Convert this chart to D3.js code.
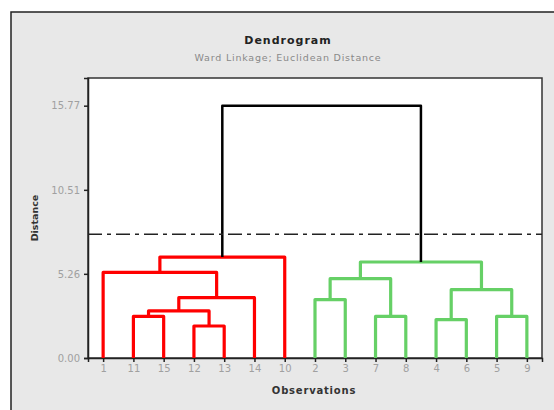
<!DOCTYPE html>
<html>
<head>
<meta charset="utf-8">
<script src="https://cdn.jsdelivr.net/npm/d3@7"></script>
<style>
  body { margin: 0; background: #fff; }
  svg { display: block; font-family: "DejaVu Sans", sans-serif; }
</style>
</head>
<body>
<div id="chart"></div>
<script>
// leaf order along the x axis
const observations = ["1", "11", "15", "12", "13", "14", "10", "2", "3", "7", "8", "4", "6", "5", "9"];

// linkage: [left, right, distance]; row n creates cluster "C" + (n + 1)
const linkage = [
    ["11", "15", 2.60],
    ["12", "13", 2.00],
    ["C1", "C2", 2.94],
    ["C3", "14", 3.77],
    ["1", "C4", 5.35],
    ["C5", "10", 6.31],
    ["2", "3", 3.65],
    ["7", "8", 2.60],
    ["C7", "C8", 4.96],
    ["4", "6", 2.40],
    ["5", "9", 2.60],
    ["C10", "C11", 4.27],
    ["C9", "C12", 6.00],
    ["C6", "C13", 15.77]
];

const yTicks = [0, 5.26, 10.51, 15.77];
const cutHeight = 7.73;
const redCluster = "C6";
const greenCluster = "C13";

const W = 554, H = 410;
const plot = {left: 88, right: 542, top: 78, bottom: 358};

const svg = d3.select("#chart").append("svg")
    .attr("width", W)
    .attr("height", H);

// outer frame
svg.append("rect")
    .attr("x", 11).attr("y", 12)
    .attr("width", W + 10).attr("height", H + 10)
    .attr("fill", "#e8e8e8")
    .attr("stroke", "#222")
    .attr("stroke-width", 1.5);

svg.append("text")
    .attr("x", 288).attr("y", 44)
    .attr("text-anchor", "middle")
    .attr("font-size", 11)
    .attr("font-weight", "bold")
    .attr("letter-spacing", 1.0)
    .attr("fill", "#222")
    .text("Dendrogram");

svg.append("text")
    .attr("x", 288).attr("y", 61)
    .attr("text-anchor", "middle")
    .attr("font-size", 9.5)
    .attr("letter-spacing", 0.8)
    .attr("fill", "#888")
    .text("Ward Linkage; Euclidean Distance");

// plot box
svg.append("rect")
    .attr("x", plot.left).attr("y", plot.top)
    .attr("width", plot.right - plot.left)
    .attr("height", plot.bottom - plot.top)
    .attr("fill", "#fff")
    .attr("stroke", "#333")
    .attr("stroke-width", 1.5);

const x = d3.scalePoint()
    .domain(observations)
    .range([plot.left, plot.right])
    .padding(0.5);

const y = d3.scaleLinear()
    .domain([0, 17.5])
    .range([plot.bottom, plot.top]);

// axes
const yAxis = svg.append("g")
    .attr("transform", "translate(" + plot.left + ",0)")
    .call(d3.axisLeft(y).tickValues(yTicks).tickFormat(d3.format(".2f")).tickSize(4).tickPadding(4));

const xAxis = svg.append("g")
    .attr("transform", "translate(0," + plot.bottom + ")")
    .call(d3.axisBottom(x).tickSize(4).tickPadding(3));

[yAxis, xAxis].forEach(a => {
    a.select(".domain").attr("stroke", "#222").attr("stroke-width", 1.5);
    a.selectAll(".tick line").attr("stroke", "#222").attr("stroke-width", 1.5);
    a.selectAll(".tick text")
        .attr("fill", "#a0a0a0")
        .attr("font-size", 10)
        .attr("font-family", "DejaVu Sans, sans-serif");
});

svg.append("text")
    .attr("transform", "translate(38,218) rotate(-90)")
    .attr("text-anchor", "middle")
    .attr("font-size", 9.5)
    .attr("font-weight", "bold")
    .attr("fill", "#333")
    .text("Distance");

svg.append("text")
    .attr("x", 314).attr("y", 394)
    .attr("text-anchor", "middle")
    .attr("font-size", 10)
    .attr("font-weight", "bold")
    .attr("letter-spacing", 0.8)
    .attr("fill", "#333")
    .text("Observations");

// build cluster nodes from the linkage table
const nodes = {};
observations.forEach(o => { nodes[o] = {name: o, x: x(o), h: 0}; });
linkage.forEach((row, i) => {
    const a = nodes[row[0]], b = nodes[row[1]];
    nodes["C" + (i + 1)] = {name: "C" + (i + 1), a: a, b: b, h: row[2], x: (a.x + b.x) / 2};
});

function collect(n) {
    return n.a ? [n.name].concat(collect(n.a), collect(n.b)) : [n.name];
}
const red = new Set(collect(nodes[redCluster]));
const green = new Set(collect(nodes[greenCluster]));

const segments = [];
linkage.forEach((row, i) => {
    const name = "C" + (i + 1);
    const n = nodes[name];
    const col = red.has(name) ? "#ff0000" : green.has(name) ? "#66d066" : "#000";
    const path = d3.path();
    path.moveTo(n.a.x, y(n.a.h));
    path.lineTo(n.a.x, y(n.h));
    path.lineTo(n.b.x, y(n.h));
    path.lineTo(n.b.x, y(n.b.h));
    segments.push({d: path.toString(), color: col});
});

svg.append("g")
    .selectAll("path")
    .data(segments)
    .join("path")
    .attr("d", d => d.d)
    .attr("fill", "none")
    .attr("stroke", d => d.color)
    .attr("stroke-width", d => d.color === "#000" ? 2.5 : 3.2)
    .attr("stroke-linejoin", "round");

// cut line
svg.append("line")
    .attr("x1", plot.left).attr("x2", plot.right)
    .attr("y1", y(cutHeight)).attr("y2", y(cutHeight))
    .attr("stroke", "#222")
    .attr("stroke-width", 1.5)
    .attr("stroke-dasharray", "14,5,4,5");
</script>
</body>
</html>
